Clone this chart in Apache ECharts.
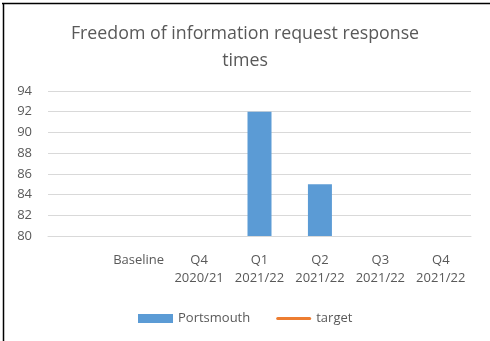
<!DOCTYPE html>
<html>
<head>
<meta charset="utf-8">
<style>
  html, body { margin: 0; padding: 0; background: #fff; }
  #chart { width: 490px; height: 341px; }
</style>
<script src="https://cdn.jsdelivr.net/npm/echarts@6/dist/echarts.min.js"></script>
</head>
<body>
<div id="chart"></div>
<script>
// Quarter categories (leading blank slot keeps the first band empty)
const categories = ['', 'Baseline', 'Q4\n2020/21', 'Q1\n2021/22', 'Q2\n2021/22', 'Q3\n2021/22', 'Q4\n2021/22'];
// Percentage of requests answered in time
const portsmouth = [null, null, null, 92, 85, null, null];
// Target values (none recorded yet)
const target = [null, null, null, null, null, null, null];
// Value axis range
const yMin = 80;
const yMax = 94;
const yStep = 2;

const textColor = '#595959';
const font = 'Open Sans';

const chart = echarts.init(document.getElementById('chart'), null, { renderer: 'canvas' });
chart.setOption({
  animation: false,
  backgroundColor: '#ffffff',
  title: {
    text: 'Freedom of information request response\ntimes',
    left: 'center',
    top: 15,
    textStyle: {
      color: textColor,
      fontFamily: font,
      fontSize: 17.8,
      fontWeight: 'normal',
      lineHeight: 27
    }
  },
  grid: { left: 48, right: 19, top: 91, bottom: 105 },
  legend: {
    bottom: 11,
    left: 133,
    itemWidth: 35,
    itemHeight: 9,
    itemGap: 26,
    textStyle: { color: textColor, fontFamily: font, fontSize: 13 },
    data: [
      { name: 'Portsmouth', icon: 'rect' },
      { name: 'target', icon: 'path://M1.5,3 L33.5,3 A1.5,1.5 0 0 1 33.5,6 L1.5,6 A1.5,1.5 0 0 1 1.5,3 Z' }
    ]
  },
  xAxis: {
    type: 'category',
    data: categories,
    axisLine: { show: true, lineStyle: { color: '#D9D9D9', width: 1 } },
    axisTick: { show: false },
    axisLabel: {
      color: textColor,
      fontFamily: font,
      fontSize: 13,
      lineHeight: 18,
      margin: 15,
      interval: 0
    }
  },
  yAxis: {
    type: 'value',
    min: yMin,
    max: yMax,
    interval: yStep,
    axisLine: { show: false },
    axisTick: { show: false },
    axisLabel: { color: textColor, fontFamily: font, fontSize: 13, margin: 16 },
    splitLine: { lineStyle: { color: '#D9D9D9', width: 1 } }
  },
  series: [
    {
      name: 'Portsmouth',
      type: 'bar',
      data: portsmouth,
      barWidth: 24,
      itemStyle: { color: '#5B9BD5' }
    },
    {
      name: 'target',
      type: 'line',
      data: target,
      symbol: 'none',
      lineStyle: { color: '#ED7D31', width: 3 },
      itemStyle: { color: '#ED7D31' }
    }
  ],
  graphic: [
    { type: 'line', shape: { x1: 2, y1: 3.5, x2: 490, y2: 3.5 }, style: { stroke: '#000', lineWidth: 1.5 } },
    { type: 'line', shape: { x1: 3.5, y1: 3, x2: 3.5, y2: 341 }, style: { stroke: '#000', lineWidth: 1.5 } }
  ]
});
</script>
</body>
</html>
